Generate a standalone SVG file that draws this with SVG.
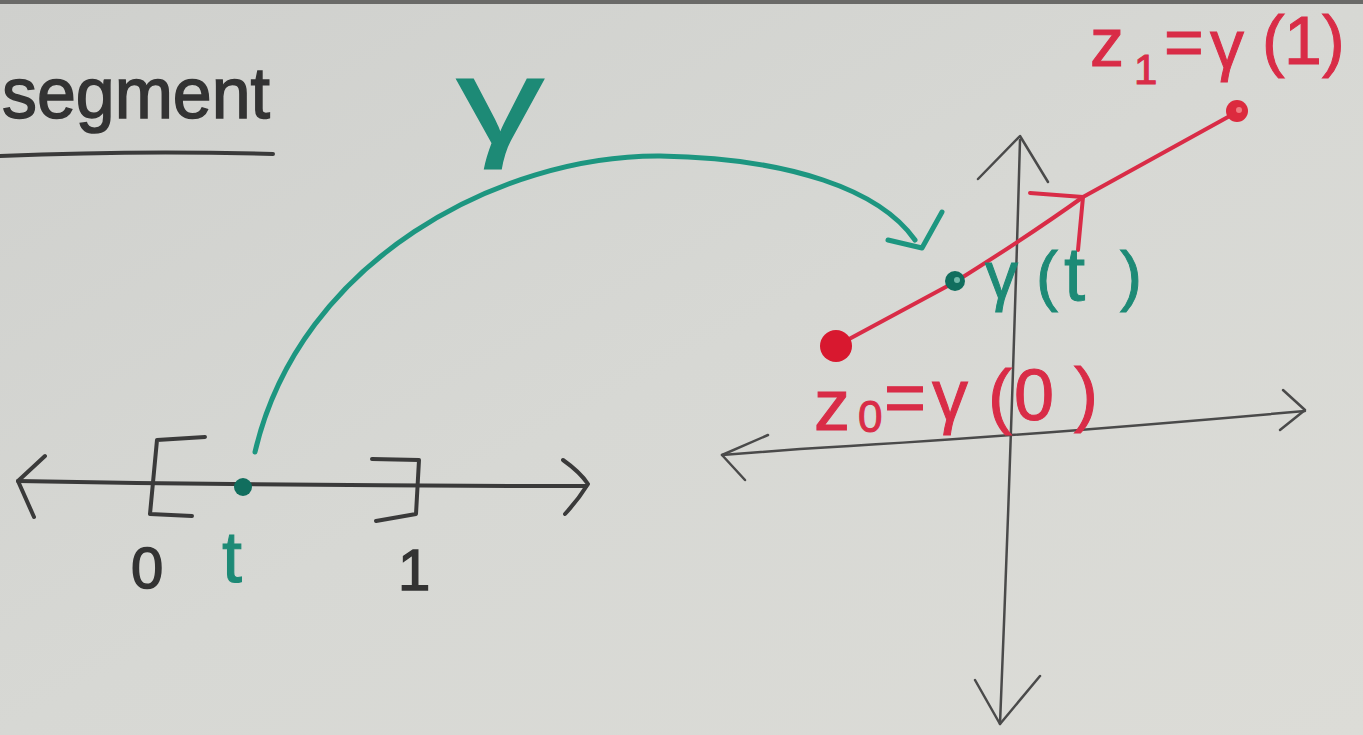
<svg xmlns="http://www.w3.org/2000/svg" width="1363" height="735" viewBox="0 0 1363 735">
<defs>
<linearGradient id="bg" x1="0" y1="0" x2="1" y2="1">
<stop offset="0" stop-color="#cfd0cd"/>
<stop offset="0.5" stop-color="#d7d8d4"/>
<stop offset="1" stop-color="#dcdcd7"/>
</linearGradient>
</defs>
<style>
.blk{fill:none;stroke:#3a3a3a;stroke-width:4;stroke-linecap:round;stroke-linejoin:round}
.thin{fill:none;stroke:#4a4a4a;stroke-width:2.5;stroke-linecap:round;stroke-linejoin:round}
.red{fill:none;stroke:#d92c47;stroke-width:4;stroke-linecap:round;stroke-linejoin:round}
.grn{fill:none;stroke:#1d9680;stroke-width:5;stroke-linecap:round;stroke-linejoin:round}
.tb{font-family:"Liberation Sans","DejaVu Sans",sans-serif;fill:#333;stroke:#333;stroke-width:1.5}
.tr{font-family:"Liberation Sans","DejaVu Sans",sans-serif;fill:#d92c47;stroke:#d92c47;stroke-width:1}
.tg{font-family:"Liberation Sans","DejaVu Sans",sans-serif;fill:#1d8a76;stroke:#1d8a76;stroke-width:1}
</style>
<rect width="1363" height="735" fill="url(#bg)"/>
<rect width="1363" height="4" fill="#6a6a68"/>

<g id="title">
<text class="tb" x="2" y="118" font-size="72" textLength="268" lengthAdjust="spacingAndGlyphs">segment</text>
<path class="blk" d="M0 156 Q140 150 273 154"/>
</g>

<g id="number-line">
<path class="blk" d="M18 481 Q300 486 586 486"/>
<path class="blk" d="M45 456 L18 481 L34 517"/>
<path class="blk" d="M563 460 Q580 472 588 484 Q578 500 565 514"/>
<path class="blk" d="M205 437 L157 440 L150 514 L192 516"/>
<path class="blk" d="M372 459 L419 460 L416 514 L376 521"/>
<text class="tb" x="131" y="588" font-size="58">0</text>
<text class="tb" x="398" y="590" font-size="58">1</text>
</g>

<g id="param-t">
<circle cx="243" cy="487" r="9" fill="#116e5e"/>
<text class="tg" x="222" y="582" font-size="72">t</text>
</g>

<g id="plane-axes">
<path class="thin" d="M1020 140 Q1012 430 1000 724"/>
<path class="thin" d="M978 179 L1020 136 L1048 182"/>
<path class="thin" d="M975 680 L1000 724 L1040 676"/>
<path class="thin" d="M722 455 Q760 452 800 449 Q1000 438 1305 411"/>
<path class="thin" d="M768 435 L722 455 L745 480"/>
<path class="thin" d="M1283 390 L1305 410 L1280 430"/>
</g>

<g id="segment-path">
<path class="red" d="M838 345 L955 282 Q1030 235 1083 197 L1237 112"/>
<path class="red" d="M1030 193 L1083 197 L1078 250"/>
<circle cx="836" cy="346" r="16" fill="#d8182f"/>
<circle cx="1237" cy="111" r="11" fill="#dc2a3e"/>
<circle cx="1239" cy="110" r="3" fill="#f07a80"/>
</g>

<g id="z1-label">
<text class="tr" font-size="68"><tspan x="1090" y="66">z</tspan><tspan x="1134" y="84" font-size="42">1</tspan><tspan x="1164" y="66">=</tspan><tspan x="1210" y="68">γ</tspan><tspan x="1262" y="64">(</tspan><tspan x="1284" y="64">1</tspan><tspan x="1322" y="64">)</tspan></text>
</g>

<g id="z0-label">
<text class="tr" font-size="72"><tspan x="814" y="430">z</tspan><tspan x="858" y="432" font-size="44">0</tspan><tspan x="884" y="422">=</tspan><tspan x="932" y="420">γ</tspan><tspan x="988" y="420">(</tspan><tspan x="1014" y="420">0</tspan><tspan x="1074" y="418">)</tspan></text>
</g>

<g id="gamma-t">
<circle cx="955" cy="281" r="10" fill="#116e5e"/>
<circle cx="957" cy="280" r="3" fill="#6fb8a8"/>
<text class="tg" font-size="66"><tspan x="985" y="298">γ</tspan><tspan x="1036" y="298">(</tspan><tspan x="1064" y="300" font-size="76">t</tspan><tspan x="1120" y="298">)</tspan></text>
</g>

<g id="connectors">
<text class="tg" transform="translate(456 144) scale(1.45 1)" font-size="122">γ</text>
<path class="grn" d="M255 452 C300 260 500 155 660 156 C790 158 880 190 915 240"/>
<path class="grn" d="M888 240 L922 248 L942 212"/>
</g>
</svg>
